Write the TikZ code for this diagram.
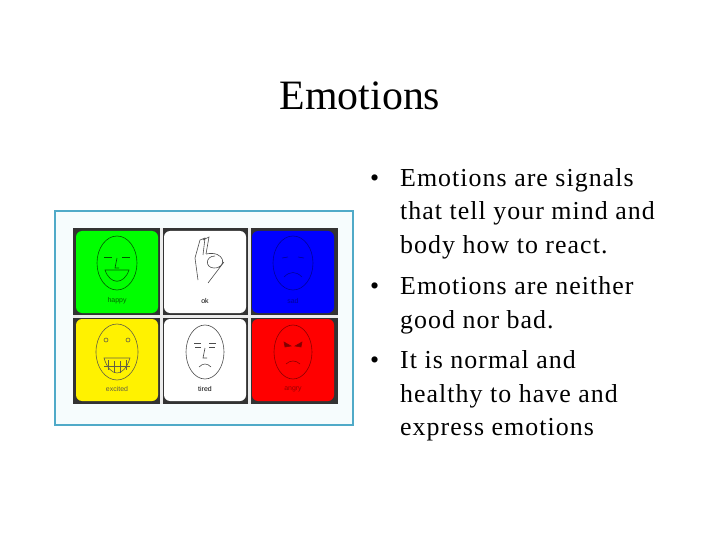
\documentclass[tikz,border=0pt]{standalone}
\usepackage{fontspec}
\setmainfont{Liberation Serif}
\setsansfont{Liberation Sans}
\begin{document}
\begin{tikzpicture}[x=1bp,y=-1bp,
  cell/.style={draw=black,line width=3bp,rounded corners=6bp},
  lbl/.style={font=\sffamily\fontsize{7}{8}\selectfont},
  face/.style={line width=0.6bp},
  txt/.style={anchor=base west,font=\fontsize{26}{33.5}\addfontfeatures{LetterSpace=4}\selectfont,inner sep=0pt},
  bul/.style={anchor=base west,font=\fontsize{26}{30}\selectfont,inner sep=0pt}]
\useasboundingbox (0,0) rectangle (720,540);
\node[anchor=base,inner sep=0] (title) at (360,110) {\fontsize{42}{46}\selectfont Emotions};
\node[bul] (b1) at (370,187) {•};
\node[txt] (l1) at (400,187) {Emotions are signals};
\node[txt] (l2) at (400,220) {that tell your mind and};
\node[txt] (l3) at (400,254) {body how to react.};
\node[bul] (b2) at (370,294) {•};
\node[txt] (l4) at (400,294) {Emotions are neither};
\node[txt] (l5) at (400,328) {good nor bad.};
\node[bul] (b3) at (370,368) {•};
\node[txt] (l6) at (400,368) {It is normal and};
\node[txt] (l7) at (400,402) {healthy to have and};
\node[txt] (l8) at (400,435) {express emotions};
% panel
\draw[draw={rgb,255:red,80;green,170;blue,200},line width=2.5bp,fill={rgb,255:red,246;green,252;blue,253}] (55,211) rectangle (353,425);
\fill[black!80] (73,228) rectangle (338,404);
\fill[white!85!gray] (160,228) rectangle (163,404);
\fill[white!85!gray] (248,228) rectangle (251,404);
\fill[white!85!gray] (73,315) rectangle (338,318);
\foreach \x/\y/\c/\l/\t in {76/231/green/happy/green!40!black,164/231/white/ok/black,252/231/blue/sad/blue!60!black,76/319/yellow/excited/black!70!yellow,164/319/white/tired/black,252/319/red/angry/red!60!black}{
  \fill[\c,rounded corners=6bp] (\x,\y) rectangle ++(82,82);
  \node[lbl,text=\t] at ({\x+41},{\y+70}) {\l};
}
% happy face
\begin{scope}[face,draw=green!35!black]
\draw (117,263) ellipse (20 and 27);
\draw (104,257)--(112,257) (122,257)--(130,257);
\draw (105,270) .. controls (110,285) and (124,285) .. (129,270) -- cycle;
\draw (117,258)--(115,268)--(119,268);
\end{scope}
% ok hand
\begin{scope}[face,draw=black!70]
\draw (198,280) -- (195,258) -- (200,240) -- (205,238) -- (203,255) (203,240)--(209,237)--(206,254);
\draw (206,254) .. controls (225,250) and (228,268) .. (214,268) .. controls (205,268) and (205,256) .. (215,256) (224,262) -- (208,283);
\end{scope}
% sad
\begin{scope}[face,draw=blue!60!black]
\draw (293,263) ellipse (20 and 27);
\draw (282,258)--(288,257) (298,257)--(304,258);
\draw (284,277) .. controls (290,271) and (296,271) .. (302,277);
\end{scope}
% excited
\begin{scope}[face,draw=black!70!yellow]
\draw (117,352) ellipse (21 and 28);
\draw (106,340) circle (2) (128,340) circle (2);
\draw (104,358) .. controls (110,378) and (124,378) .. (130,358) -- cycle;
\draw (108,360)--(108,370) (114,361)--(114,373) (120,361)--(120,373) (126,360)--(126,370) (104,366)--(130,366);
\end{scope}
% tired
\begin{scope}[face,draw=black!70]
\draw (205,352) ellipse (19 and 27);
\draw (194,343)--(201,343) (209,343)--(216,343) (195,347)--(201,347) (209,347)--(215,347);
\draw (205,348)--(203,358)--(207,358) (199,367) .. controls (203,363) and (207,363) .. (211,367);
\end{scope}
% angry
\begin{scope}[face,draw=red!55!black]
\draw (293,352) ellipse (19 and 27);
\draw[fill=red!50!black] (284,342)--(291,346)--(285,347)--cycle (302,342)--(295,346)--(301,347)--cycle;
\draw (286,364) .. controls (290,360) and (296,360) .. (300,364);
\end{scope}
\end{tikzpicture}
\end{document}
